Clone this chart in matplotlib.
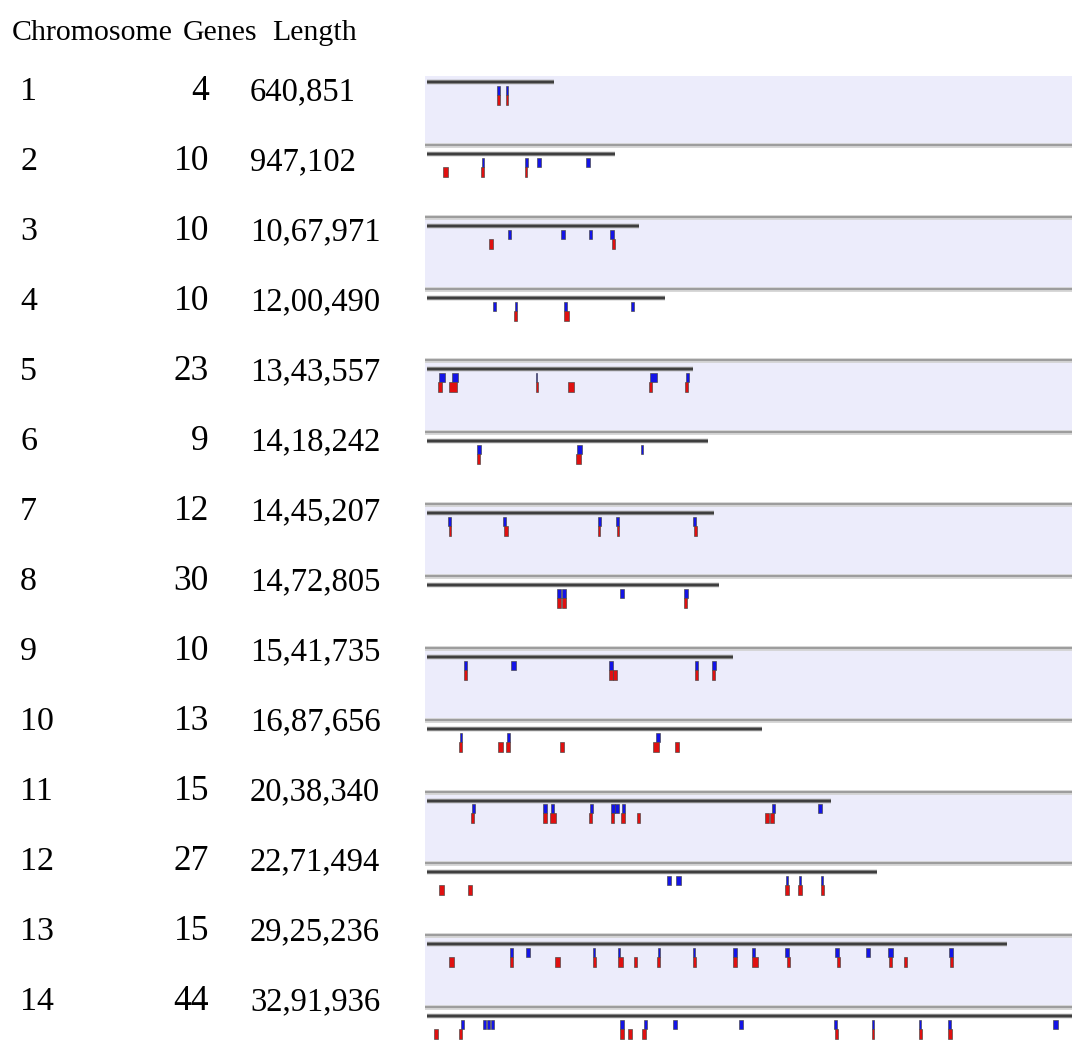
import matplotlib
matplotlib.use("Agg")
import matplotlib.pyplot as plt
from matplotlib.patches import Rectangle

# table columns
chromosomes = [1, 2, 3, 4, 5, 6, 7, 8, 9, 10, 11, 12, 13, 14]
gene_counts = [4, 10, 10, 10, 23, 9, 12, 30, 10, 13, 15, 27, 15, 44]
lengths = [640851, 947102, 1067971, 1200490, 1343557, 1418242, 1445207,
           1472805, 1541735, 1687656, 2038340, 2271494, 2925236, 3291936]
length_labels = ["640,851", "947,102", "10,67,971", "12,00,490", "13,43,557",
                 "14,18,242", "14,45,207", "14,72,805", "15,41,735", "16,87,656",
                 "20,38,340", "22,71,494", "29,25,236", "32,91,936"]

# gene blocks (start, end) in kb, upper row (blue) and lower row (red)
blue_genes = [
    [(352, 368), (398, 410)],
    [(276, 288), (493, 509), (556, 573), (800, 822)],
    [(407, 425), (677, 697), (819, 834), (923, 942)],
    [(333, 350), (444, 454), (691, 706), (1027, 1044)],
    [(61, 91), (126, 156), (548, 556), (1125, 1160), (1306, 1321)],
    [(251, 274), (757, 782), (1078, 1091)],
    [(107, 121), (383, 398), (864, 879), (955, 970), (1341, 1357)],
    [(657, 676), (681, 700), (973, 992), (1295, 1318)],
    [(185, 202), (424, 450), (916, 937), (1353, 1365), (1439, 1457)],
    [(166, 178), (405, 420), (1155, 1175)],
    [(225, 241), (584, 605), (624, 639), (822, 837), (928, 947), (950, 968),
     (982, 999), (1738, 1755), (1973, 1994)],
    [(1210, 1229), (1256, 1279), (1809, 1821), (1876, 1888), (1987, 1999)],
    [(420, 434), (499, 521), (836, 849), (965, 975), (1165, 1177), (1340, 1353),
     (1545, 1565), (1639, 1653), (1807, 1824), (2058, 2079), (2215, 2234),
     (2323, 2349), (2634, 2651)],
    [(172, 187), (284, 299), (301, 316), (321, 338), (973, 992), (1096, 1110),
     (1242, 1262), (1573, 1592), (2053, 2066), (2243, 2253), (2480, 2493),
     (2626, 2641), (3158, 3182)],
]
red_genes = [
    [(352, 368), (398, 410)],
    [(82, 104), (271, 289), (493, 506)],
    [(313, 331), (933, 947)],
    [(437, 455), (689, 715)],
    [(57, 74), (111, 151), (548, 558), (711, 741), (1121, 1133), (1303, 1316)],
    [(251, 267), (750, 778)],
    [(111, 120), (390, 407), (861, 874), (958, 970), (1345, 1360)],
    [(657, 676), (681, 700), (1298, 1313)],
    [(188, 202), (916, 937), (938, 957), (1353, 1367), (1439, 1454)],
    [(163, 177), (357, 385), (400, 420), (669, 691), (1141, 1169), (1251, 1269)],
    [(222, 239), (584, 605), (620, 649), (819, 834), (929, 945), (978, 1000),
     (1058, 1073), (1706, 1726), (1731, 1750)],
    [(61, 84), (208, 229), (1807, 1826), (1872, 1890), (1985, 2004)],
    [(113, 138), (417, 432), (647, 672), (836, 851), (963, 987), (1042, 1061),
     (1158, 1175), (1340, 1357), (1545, 1562), (1639, 1671), (1814, 1829),
     (2066, 2083), (2328, 2345), (2406, 2422), (2638, 2654)],
    [(34, 54), (163, 178), (973, 993), (1015, 1032), (1086, 1106), (2056, 2071),
     (2243, 2254), (2480, 2495), (2629, 2646)],
]

W, H = 1072, 1042
LANE = 71.85          # lane height in px
PX_PER_KB = 0.1983
TRACK_X0 = 427        # px where position 0 sits

fig = plt.figure(figsize=(W / 100, H / 100), dpi=100)
fig.patch.set_facecolor("white")

# track panel on the right
ax = fig.add_axes([425 / W, 0, (W - 425) / W, (H - 76) / H])
ax.set_xlim(-(TRACK_X0 - 425) / PX_PER_KB, (W - TRACK_X0) / PX_PER_KB)
ax.set_ylim((H - 73) / LANE, 3 / LANE)
ax.axis("off")

n = len(chromosomes)
for i in range(n):
    if i % 2 == 0:
        ax.axhspan(i, i + 1, color="#ECECFB", lw=0, zorder=0)
for i in range(1, n):
    ax.axhline(i, color="#d2d2d2", lw=3.4, zorder=1)
    ax.axhline(i, color="#9c9c9c", lw=1.4, zorder=1)

for i in range(n):
    y_line = i + 9 / LANE
    ax.plot([0, lengths[i] / 1000], [y_line, y_line], color="#8c8c8c",
            lw=3.2, solid_capstyle="butt", zorder=2)
    ax.plot([0, lengths[i] / 1000], [y_line, y_line], color="#3e3e3e",
            lw=1.6, solid_capstyle="butt", zorder=3)
    for s, e in blue_genes[i]:
        ax.add_patch(Rectangle((s, i + 13 / LANE), e - s, 9 / LANE,
                               facecolor="#1414e6", edgecolor="#454545",
                               lw=0.45, zorder=4))
    for s, e in red_genes[i]:
        ax.add_patch(Rectangle((s, i + 22 / LANE), e - s, 10 / LANE,
                               facecolor="#e01010", edgecolor="#454545",
                               lw=0.45, zorder=4))

# table on the left
font = dict(family="Liberation Serif", color="black")


def put(x, y, s, size, ha="left"):
    fig.text(x / W, 1 - y / H, s, fontsize=size, ha=ha, va="baseline", **font)


put(12, 40, "Chromosome", 21.5)
put(183, 40, "Genes", 21.5)
put(272, 40, "Length", 21.5)

for i in range(n):
    base = 100 + 70 * i
    put(20, base, str(chromosomes[i]), 24.5)
    put(209, base, str(gene_counts[i]), 25.5, ha="right")
    put(250, base, length_labels[i], 23.5)

fig.savefig("out.png", dpi=100)
